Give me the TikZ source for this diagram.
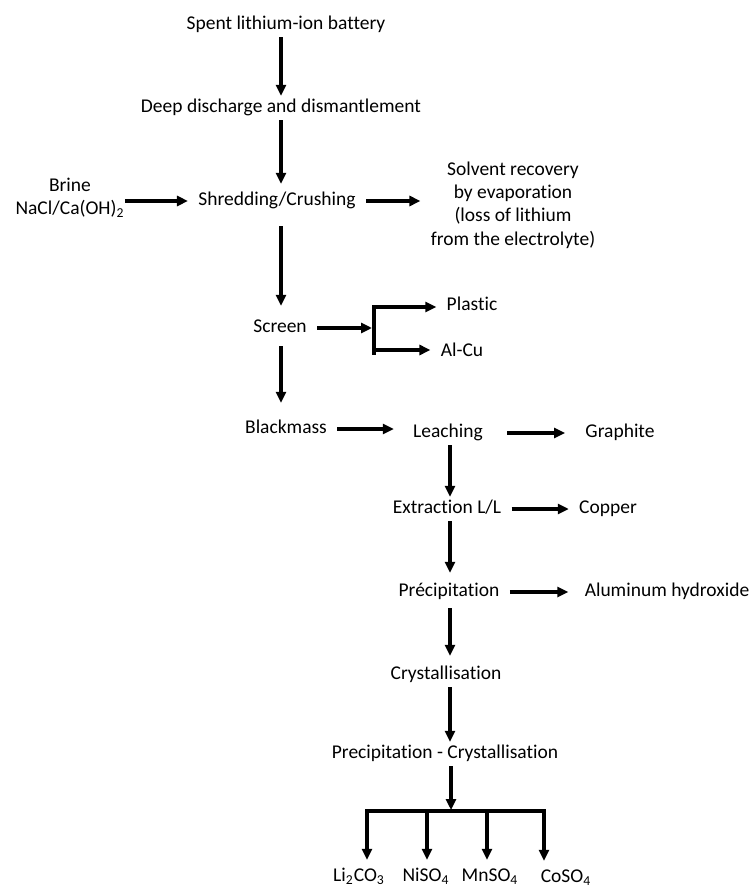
\documentclass[tikz,border=0pt]{standalone}
\usepackage{fontspec}
\setmainfont{Carlito}[Ligatures=NoCommon]
\usetikzlibrary{arrows.meta}

\begin{document}
\begin{tikzpicture}[x=0.5pt, y=-0.5pt,
    every node/.style={font=\fontsize{9.75}{11.7}\selectfont, inner xsep=5pt, inner ysep=1.5pt},
    lbl/.style={text height=6.8pt, text depth=2pt},
    flow/.style={line width=1.6pt, -{Triangle[length=5.5pt,width=5pt]}},
    bar/.style={line width=1.6pt, line cap=rect}]
    \useasboundingbox (0,0) rectangle (752,887);
    \coordinate (colA) at (281,0);
    \coordinate (colB) at (450,0);
    % main chain
    \node[lbl] (spent) at (286,25) {Spent lithium-ion battery};
    \node[lbl] (deep) at (281,108) {Deep discharge and dismantlement};
    \node[lbl] (shred) at (277,201) {Shredding/Crushing};
    \node[lbl] (screen) at (280,328) {Screen};
    \node[lbl] (black) at (286,429) {Blackmass};
    \node[lbl] (leach) at (448,433) {Leaching};
    \node[lbl] (extr) at (447,509) {Extraction L/L};
    \node[lbl] (precip) at (449,592) {Précipitation};
    \node[lbl] (cryst) at (446,675) {Crystallisation};
    \node[lbl] (pc) at (445,754) {Precipitation - Crystallisation};
    % side streams
    \node[align=center, inner xsep=0pt] (brine) at (70,198) {Brine\\NaCl/Ca(OH)\textsubscript{2}};
    \node[align=center] (solvent) at (513,205) {Solvent recovery\\ by evaporation\\(loss of lithium\\from the electrolyte)};
    \node[lbl] (plastic) at (472,306) {Plastic};
    \node[lbl] (alcu) at (462,352) {Al-Cu};
    \node[lbl] (graph) at (620,433) {Graphite};
    \node[lbl] (copper) at (608,509) {Copper};
    \node[lbl] (alum) at (667,592) {Aluminum hydroxide};
    % products
    \node[lbl] (li) at (359,877) {Li\textsubscript{2}CO\textsubscript{3}};
    \node[lbl] (ni) at (426,877) {NiSO\textsubscript{4}};
    \node[lbl] (mn) at (490,877) {MnSO\textsubscript{4}};
    \node[lbl] (co) at (566,878) {CoSO\textsubscript{4}};

    % vertical flow
    \draw[flow] (spent.south -| colA) -- (deep.north -| colA);
    \draw[flow, shorten >=2.5pt] (deep.south -| colA) -- (shred.north -| colA);
    \draw[flow, shorten <=6.5pt, shorten >=5pt] (shred.south -| colA) -- (screen.north -| colA);
    \draw[flow, shorten <=3pt, shorten >=7pt] (screen.south -| colA) -- (black.north -| colA);
    \draw[flow] (leach.south -| colB) -- (extr.north -| colB);
    \draw[flow, shorten >=3.5pt] (extr.south -| colB) -- (precip.north -| colB);
    \draw[flow, shorten <=2pt, shorten >=3.5pt] (precip.south -| colB) -- (cryst.north -| colB);
    \draw[flow] (cryst.south -| colB) -- (pc.north -| colB);

    % horizontal flow
    \draw[flow] (brine.east |- shred.west) -- (shred.west);
    \draw[flow] (shred.east) -- (solvent.west |- shred.east);
    \draw[flow, shorten >=4.5pt] (black.east) -- (leach.west |- black.east);
    \draw[flow, shorten <=7pt, shorten >=5pt] (leach.east) -- (graph.west);
    \draw[flow] (extr.east) -- (copper.west);
    \draw[flow, shorten >=3pt] (precip.east) -- (alum.west);

    % screen split
    \coordinate (splitT) at (374,307);
    \coordinate (splitM) at (374,328);
    \coordinate (splitB) at (374,350);
    \draw[bar] (splitT) -- (374,353);
    \draw[flow, shorten >=1pt] (screen.east) -- (splitM);
    \draw[flow] (splitT) -- (plastic.west |- splitT);
    \draw[flow] (splitB) -- (alcu.west |- splitB);

    % final split
    \coordinate (split) at (451,811);
    \draw[flow, shorten >=0.5pt] (pc.south -| split) -- (split);
    \draw[bar] (367,811) -- (544,811);
    \foreach \n/\x in {li/367, ni/427, mn/487, co/544}
    {
        \coordinate (b\n) at (\x,811);
        \draw[flow, shorten >=2.5pt] (b\n) -- (b\n |- \n.north);
    }
\end{tikzpicture}
\end{document}
